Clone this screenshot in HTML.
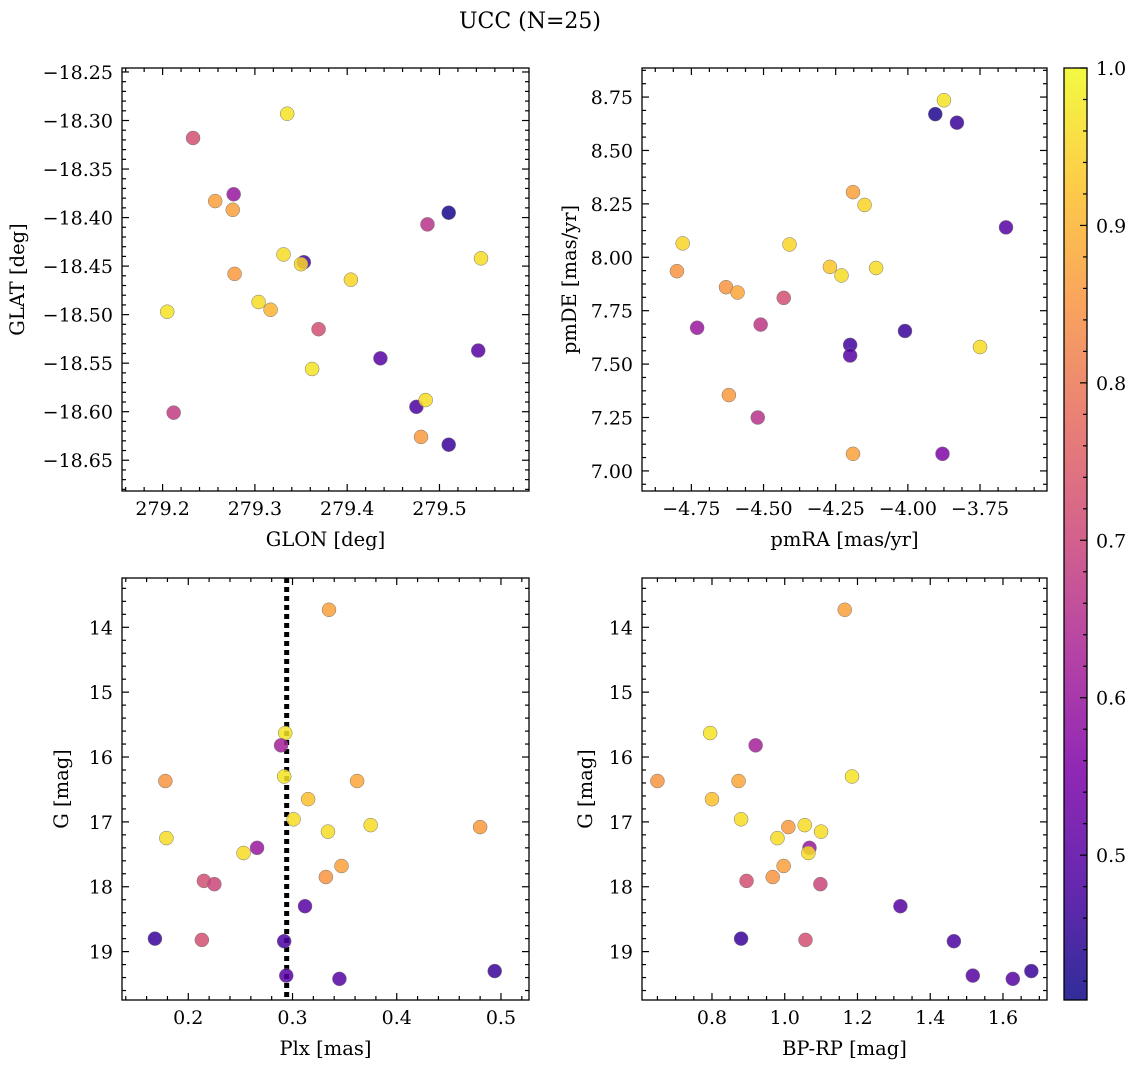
<!DOCTYPE html>
<html><head><meta charset="utf-8"><style>
body{margin:0;background:#fff}
svg{display:block;font-family:"DejaVu Serif","Liberation Serif",serif}
</style></head><body>
<svg id="c" width="1136" height="1067" xmlns="http://www.w3.org/2000/svg">
<defs><linearGradient id="plasma" x1="0" y1="1" x2="0" y2="0">
<stop offset="0" stop-color="#0d0887"/><stop offset="0.125" stop-color="#4c02a1"/><stop offset="0.25" stop-color="#7e03a8"/><stop offset="0.375" stop-color="#a92395"/><stop offset="0.5" stop-color="#cc4778"/><stop offset="0.625" stop-color="#e56b5d"/><stop offset="0.75" stop-color="#f89540"/><stop offset="0.875" stop-color="#fdc328"/><stop offset="1" stop-color="#f0f921"/>
</linearGradient></defs>
<text x="530" y="28" font-size="22" text-anchor="middle">UCC (N=25)</text>
</svg>
<script>
// Panel 1: GLON / GLAT
const glon=[279.335,279.233,279.277,279.257,279.276,279.51,279.487,279.331,279.353,279.350,279.545,279.404,279.278,279.205,279.304,279.317,279.369,279.362,279.436,279.542,279.475,279.485,279.212,279.480,279.510];
const glat=[-18.293,-18.318,-18.376,-18.383,-18.392,-18.395,-18.407,-18.438,-18.446,-18.448,-18.442,-18.464,-18.458,-18.497,-18.487,-18.495,-18.515,-18.556,-18.545,-18.537,-18.595,-18.588,-18.601,-18.626,-18.634];
const probA=[0.97,0.72,0.6,0.87,0.87,0.42,0.66,0.96,0.47,0.95,0.96,0.95,0.86,0.97,0.96,0.9,0.72,0.97,0.5,0.5,0.48,0.96,0.68,0.86,0.46];
// Panel 2: pmRA / pmDE
const pmra=[-3.875,-3.905,-3.83,-4.19,-4.15,-3.66,-4.78,-4.41,-4.27,-4.23,-4.11,-4.80,-4.63,-4.59,-4.43,-4.73,-4.51,-4.20,-4.20,-4.01,-3.75,-4.62,-4.52,-4.19,-3.88];
const pmde=[8.735,8.67,8.63,8.305,8.245,8.14,8.065,8.06,7.955,7.915,7.95,7.935,7.86,7.835,7.81,7.67,7.685,7.59,7.54,7.655,7.58,7.355,7.25,7.08,7.08];
const probB=[0.97,0.43,0.46,0.87,0.95,0.5,0.95,0.95,0.93,0.96,0.96,0.85,0.85,0.88,0.72,0.6,0.67,0.47,0.5,0.46,0.96,0.86,0.66,0.87,0.56];
// Panel 3: Plx / G
const plx=[0.335,0.293,0.289,0.178,0.292,0.362,0.315,0.179,0.301,0.334,0.375,0.48,0.253,0.266,0.215,0.225,0.347,0.332,0.312,0.168,0.213,0.292,0.294,0.345,0.494];
const gmagC=[13.73,15.63,15.82,16.37,16.3,16.37,16.65,17.25,16.96,17.15,17.05,17.08,17.48,17.4,17.91,17.96,17.68,17.85,18.3,18.8,18.82,18.84,19.37,19.42,19.3];
const probC=[0.87,0.97,0.62,0.85,0.97,0.88,0.92,0.96,0.96,0.96,0.96,0.86,0.96,0.6,0.72,0.7,0.87,0.85,0.5,0.46,0.72,0.48,0.5,0.5,0.46];
const plxLine=[0.2944];
// Panel 4: BP-RP / G
const bprp=[1.165,0.795,0.92,0.65,0.873,1.185,0.80,0.88,1.01,1.055,1.10,0.98,1.068,1.065,0.997,0.967,0.895,1.098,1.318,0.88,1.057,1.465,1.517,1.627,1.678];
const gmagD=[13.73,15.63,15.82,16.37,16.37,16.3,16.65,16.96,17.08,17.05,17.15,17.25,17.4,17.48,17.68,17.85,17.91,17.96,18.3,18.8,18.82,18.84,19.37,19.42,19.3];
const probD=[0.87,0.97,0.62,0.85,0.88,0.97,0.92,0.96,0.86,0.96,0.96,0.96,0.6,0.96,0.87,0.85,0.72,0.7,0.5,0.46,0.72,0.48,0.5,0.5,0.46];
const cbTicks=[0.5,0.6,0.7,0.8,0.9,1.0];

const NS="http://www.w3.org/2000/svg";
const svg=document.getElementById('c');
function mk(tag,attrs,parent){const e=document.createElementNS(NS,tag);for(const k in attrs)e.setAttribute(k,attrs[k]);(parent||svg).appendChild(e);return e;}
const PMIN=0.408,PMAX=1.0;
const stops=[[13,8,135],[76,2,161],[126,3,168],[169,35,149],[204,71,120],[229,107,93],[248,149,64],[253,195,40],[240,249,33]];
function plasma(p){let t=(p-PMIN)/(PMAX-PMIN);t=Math.max(0,Math.min(1,t));const f=t*8,i=Math.min(7,Math.floor(f)),r=f-i;const a=stops[i],b=stops[i+1];return 'rgb('+a.map((v,k)=>Math.round(v+(b[k]-v)*r)).join(',')+')';}

const TF=19, AF=19.5;
function panel(o){
  const g=mk('g',{});
  
  
  const X=v=>o.x0+(v-o.xmin)/(o.xmax-o.xmin)*(o.x1-o.x0);
  const Y=o.invert ? (v=>o.y0+(v-o.ymin)/(o.ymax-o.ymin)*(o.y1-o.y0)) : (v=>o.y0+(o.ymax-v)/(o.ymax-o.ymin)*(o.y1-o.y0));
  const tk=(maj,minorDiv,min,max,isX)=>{
    const step=maj[1]-maj[0];const ms=step/minorDiv;
    let start=Math.ceil((min-1e-9)/ms)*ms;
    for(let v=start;v<=max+1e-9;v+=ms){
      const isMaj=maj.some(m=>Math.abs(m-v)<ms/10);const L=isMaj?7:4;
      if(isX){const x=X(v);mk('line',{x1:x,x2:x,y1:o.y1,y2:o.y1-L,stroke:'#000','stroke-width':1.2},g);mk('line',{x1:x,x2:x,y1:o.y0,y2:o.y0+L,stroke:'#000','stroke-width':1.2},g);}
      else{const y=Y(v);mk('line',{x1:o.x0,x2:o.x0+L,y1:y,y2:y,stroke:'#000','stroke-width':1.2},g);mk('line',{x1:o.x1,x2:o.x1-L,y1:y,y2:y,stroke:'#000','stroke-width':1.2},g);}
    }
  };
  tk(o.xt,o.xminor,o.xmin,o.xmax,true);tk(o.yt,o.yminor,o.ymin,o.ymax,false);
  o.xt.forEach((v,i)=>{const t=mk('text',{x:X(v),y:o.y1+24,'font-size':TF,'text-anchor':'middle'},g);t.textContent=o.xl[i];
    
    });
  o.yt.forEach((v,i)=>{const t=mk('text',{x:o.x0-9,y:Y(v)+7,'font-size':TF,'text-anchor':'end'},g);t.textContent=o.yl[i];
    
    });
  const xt=mk('text',{x:(o.x0+o.x1)/2,y:o.y1+55,'font-size':AF,'text-anchor':'middle'},g);xt.textContent=o.xlab;
  
  
  const yt=mk('text',{x:o.ylx,y:(o.y0+o.y1)/2,'font-size':AF,'text-anchor':'middle',transform:'rotate(-90 '+o.ylx+' '+((o.y0+o.y1)/2)+')'},g);yt.textContent=o.ylab;
  
  
  if(o.vline){o.vline.forEach(v=>{const l=mk('line',{x1:X(v),x2:X(v),y1:o.y0,y2:o.y1,stroke:'#000','stroke-width':5,'stroke-dasharray':'5 4'},g);
    
    });}
  o.xs.forEach((v,i)=>{const c=mk('circle',{cx:X(v),cy:Y(o.ys[i]),r:7,fill:plasma(o.p[i]),'fill-opacity':0.85,stroke:'#777','stroke-width':0.5},g);
    
    });
  const fr=mk('rect',{x:o.x0,y:o.y0,width:o.x1-o.x0,height:o.y1-o.y0,fill:'none',stroke:'#000','stroke-width':1.3},g);
  
  
}
panel({name:'glon-glat-panel',x0:122,x1:529,y0:68,y1:491,xmin:279.156,xmax:279.597,ymin:-18.6817,ymax:-18.2459,
 xt:[279.2,279.3,279.4,279.5],xl:['279.2','279.3','279.4','279.5'],xminor:5,
 yt:[-18.65,-18.6,-18.55,-18.5,-18.45,-18.4,-18.35,-18.3,-18.25],yl:['−18.65','−18.60','−18.55','−18.50','−18.45','−18.40','−18.35','−18.30','−18.25'],yminor:5,
 xlab:'GLON [deg]',ylab:'GLAT [deg]',ylx:24,xs:glon,ys:glat,p:probA});
panel({name:'pm-panel',x0:642,x1:1047,y0:68,y1:491,xmin:-4.921,xmax:-3.518,ymin:6.906,ymax:8.886,
 xt:[-4.75,-4.5,-4.25,-4.0,-3.75],xl:['−4.75','−4.50','−4.25','−4.00','−3.75'],xminor:4,
 yt:[7.0,7.25,7.5,7.75,8.0,8.25,8.5,8.75],yl:['7.00','7.25','7.50','7.75','8.00','8.25','8.50','8.75'],yminor:4,
 xlab:'pmRA [mas/yr]',ylab:'pmDE [mas/yr]',ylx:576,xs:pmra,ys:pmde,p:probB});
panel({name:'plx-g-panel',x0:122,x1:529,y0:578,y1:1000,xmin:0.1364,xmax:0.5269,ymin:13.240,ymax:19.746,invert:true,
 xt:[0.2,0.3,0.4,0.5],xl:['0.2','0.3','0.4','0.5'],xminor:5,
 yt:[14,15,16,17,18,19],yl:['14','15','16','17','18','19'],yminor:5,
 xlab:'Plx [mas]',ylab:'G [mag]',ylx:68,xs:plx,ys:gmagC,p:probC,vline:plxLine});
panel({name:'cmd-panel',x0:642,x1:1047,y0:578,y1:1000,xmin:0.6076,xmax:1.721,ymin:13.240,ymax:19.746,invert:true,
 xt:[0.8,1.0,1.2,1.4,1.6],xl:['0.8','1.0','1.2','1.4','1.6'],xminor:4,
 yt:[14,15,16,17,18,19],yl:['14','15','16','17','18','19'],yminor:5,
 xlab:'BP-RP [mag]',ylab:'G [mag]',ylx:592,xs:bprp,ys:gmagD,p:probD});
// colorbar
const cb=mk('g',{});


const cx0=1064,cx1=1087,cy0=68,cy1=1000;
const CY=v=>cy1-(v-PMIN)/(PMAX-PMIN)*(cy1-cy0);
mk('rect',{x:cx0,y:cy0,width:cx1-cx0,height:cy1-cy0,fill:'url(#plasma)','fill-opacity':0.85},cb);
for(let v=0.42;v<=1.0001;v+=0.02){const y=CY(v);const maj=cbTicks.some(m=>Math.abs(m-v)<0.001);mk('line',{x1:cx1,x2:cx1-(maj?7:4),y1:y,y2:y,stroke:'#000','stroke-width':1.2},cb);}
cbTicks.forEach(v=>{const t=mk('text',{x:1096,y:CY(v)+7,'font-size':TF},cb);t.textContent=v.toFixed(1);
  
  });
mk('rect',{x:cx0,y:cy0,width:cx1-cx0,height:cy1-cy0,fill:'none',stroke:'#000','stroke-width':1.3},cb);
</script>
</body></html>
